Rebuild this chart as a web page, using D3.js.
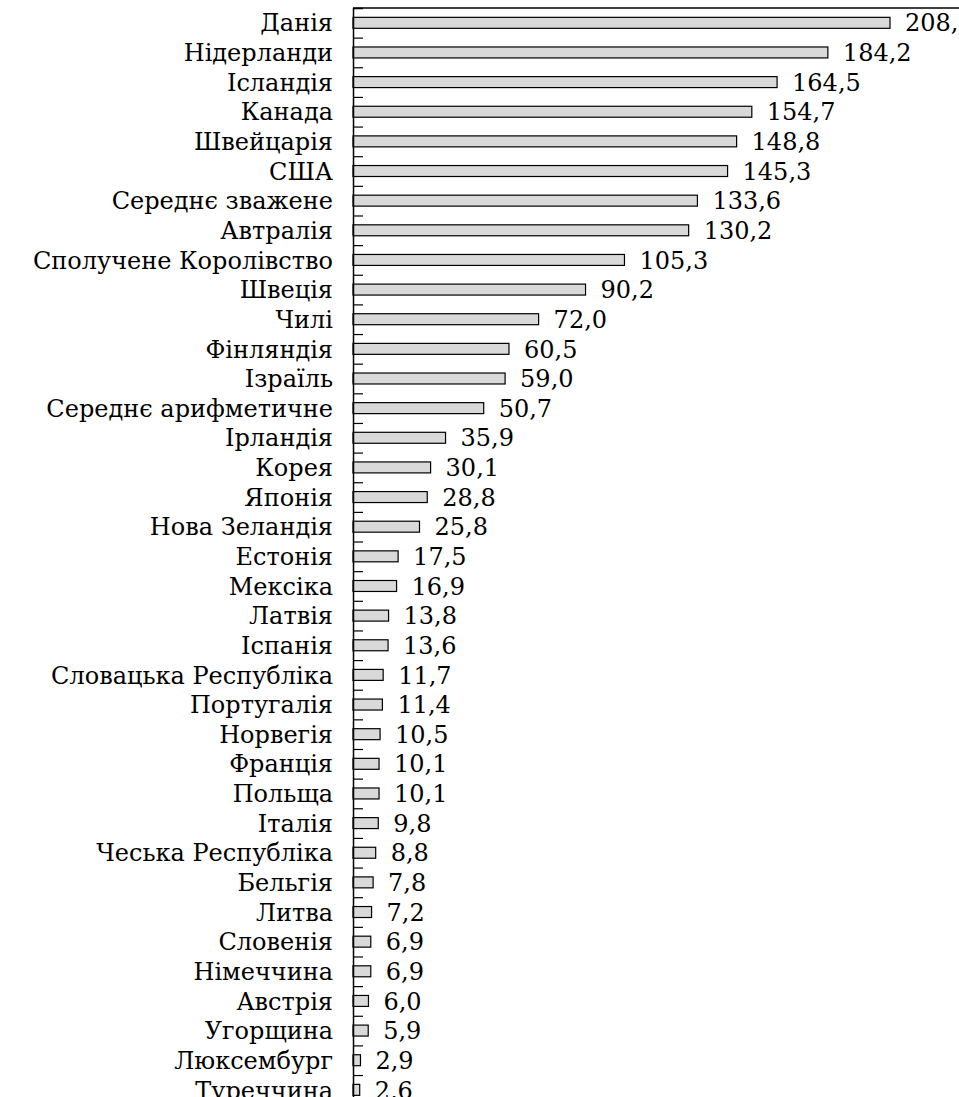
<!DOCTYPE html>
<html>
<head>
<meta charset="utf-8">
<script src="https://cdn.jsdelivr.net/npm/d3@7"></script>
<style>
html,body{margin:0;padding:0;background:#fff;overflow:hidden;}
svg{display:block;}
</style>
</head>
<body>
<svg id="chart" width="959" height="1097"></svg>
<script>
const categories = ["Данія","Нідерланди","Ісландія","Канада","Швейцарія","США","Середнє зважене","Автралія","Сполучене Королівство","Швеція","Чилі","Фінляндія","Ізраїль","Середнє арифметичне","Ірландія","Корея","Японія","Нова Зеландія","Естонія","Мексіка","Латвія","Іспанія","Словацька Республіка","Португалія","Норвегія","Франція","Польща","Італія","Чеська Республіка","Бельгія","Литва","Словенія","Німеччина","Австрія","Угорщина","Люксембург","Туреччина"];
const values = [208.3,184.2,164.5,154.7,148.8,145.3,133.6,130.2,105.3,90.2,72.0,60.5,59.0,50.7,35.9,30.1,28.8,25.8,17.5,16.9,13.8,13.6,11.7,11.4,10.5,10.1,10.1,9.8,8.8,7.8,7.2,6.9,6.9,6.0,5.9,2.9,2.6];

(function(){
const FONT = "DejaVu Serif";
const svg = d3.select("#chart");
const axisX = 353, plotTop = 8, step = 29.64;
const fontSize = 24;

const x = d3.scaleLinear().domain([0, 208.3]).range([axisX, 890]);
const y = d3.scaleBand().domain(categories).range([plotTop, plotTop + step*categories.length]).paddingInner(0.63).paddingOuter(0.315);
const yIdx = d3.scaleLinear().domain([0, categories.length]).range([plotTop, plotTop + step*categories.length]);

svg.append("line").attr("x1", axisX).attr("x2", 959).attr("y1", plotTop).attr("y2", plotTop)
  .attr("stroke", "#000").attr("stroke-width", 1.5);

svg.append("g").selectAll("rect").data(categories).join("rect")
  .attr("x", axisX)
  .attr("y", d => y(d))
  .attr("width", (d,i) => x(values[i]) - axisX)
  .attr("height", y.bandwidth())
  .attr("fill", "#d9d9d9")
  .attr("stroke", "#000")
  .attr("stroke-width", 1.2);

const axis = d3.axisRight(yIdx).tickValues(d3.range(1, categories.length)).tickSize(10).tickFormat("");
const ag = svg.append("g").attr("transform", `translate(${axisX},0)`).call(axis);
ag.select(".domain").attr("stroke", "#000").attr("stroke-width", 1.5);
ag.selectAll(".tick line").attr("stroke", "#000").attr("stroke-width", 1.2);

svg.append("g").selectAll("text").data(categories).join("text")
  .attr("x", 333)
  .attr("y", d => y(d) + y.bandwidth()/2)
  .attr("dy", "0.36em")
  .attr("text-anchor", "end")
  .attr("font-family", FONT)
  .attr("font-size", fontSize)
  .attr("fill", "#000")
  .text(d => d);

const fmt = v => v.toFixed(1).replace(".", ",");
svg.append("g").selectAll("text").data(categories).join("text")
  .attr("x", (d,i) => x(values[i]) + 15)
  .attr("y", d => y(d) + y.bandwidth()/2)
  .attr("dy", "0.36em")
  .attr("font-family", FONT)
  .attr("font-size", fontSize)
  .attr("fill", "#000")
  .text((d,i) => fmt(values[i]));
})();
</script>
</body>
</html>
